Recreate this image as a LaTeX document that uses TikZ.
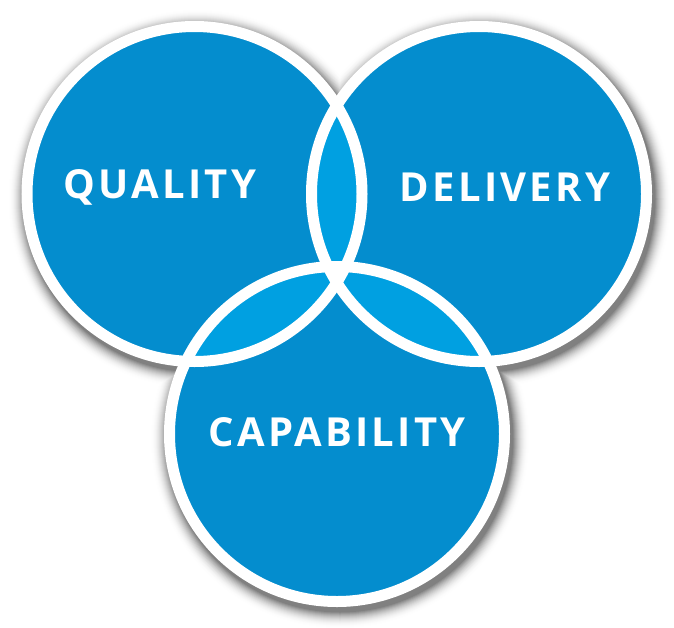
\documentclass[tikz,border=0pt]{standalone}
\usepackage{fontspec}
\newfontfamily\labelfont[LetterSpace=8]{Open Sans}
\definecolor{venblue}{RGB}{4,141,206}
\definecolor{lensblue}{RGB}{0,160,225}
\def\rc{167.5pt}
\begin{document}
\begin{tikzpicture}[x=1pt, y=-1pt,
    ring/.style={draw=white, line width=11pt},
    area/.style={fill=venblue},
    lens/.style={fill=lensblue},
    title/.style={text=white, font=\labelfont\bfseries\fontsize{40}{42}\selectfont},
]
\useasboundingbox (0,0) rectangle (674,627);

% Centri
\coordinate (quality) at (194.5,194);
\coordinate (delivery) at (479,194);
\coordinate (capability) at (337,434);

% Ombra
\foreach \i in {16,...,0}{
    \pgfmathsetmacro{\shade}{50*(1-\i/16)^2}
    \foreach \c in {quality,delivery,capability}
        \fill[black!\shade] ([shift={(3,5)}]\c) circle[radius=173.5pt+\i pt];
}

% Cerchi
\foreach \c in {quality,delivery,capability}
    \fill[area] (\c) circle[radius=\rc];

% Intersezioni
\begin{scope}
    \clip (quality) circle[radius=\rc];
    \fill[lens] (delivery) circle[radius=\rc];
    \fill[lens] (capability) circle[radius=\rc];
\end{scope}
\begin{scope}
    \clip (delivery) circle[radius=\rc];
    \fill[lens] (capability) circle[radius=\rc];
\end{scope}

% Bordi
\foreach \c in {quality,delivery,capability}
    \draw[ring] (\c) circle[radius=\rc];

% Etichette
\node[title] (qlabel) at (160,187) {QUALITY};
\node[title] (dlabel) at (505,187) {DELIVERY};
\node[title] (clabel) at (337,432) {CAPABILITY};

\end{tikzpicture}
\end{document}
